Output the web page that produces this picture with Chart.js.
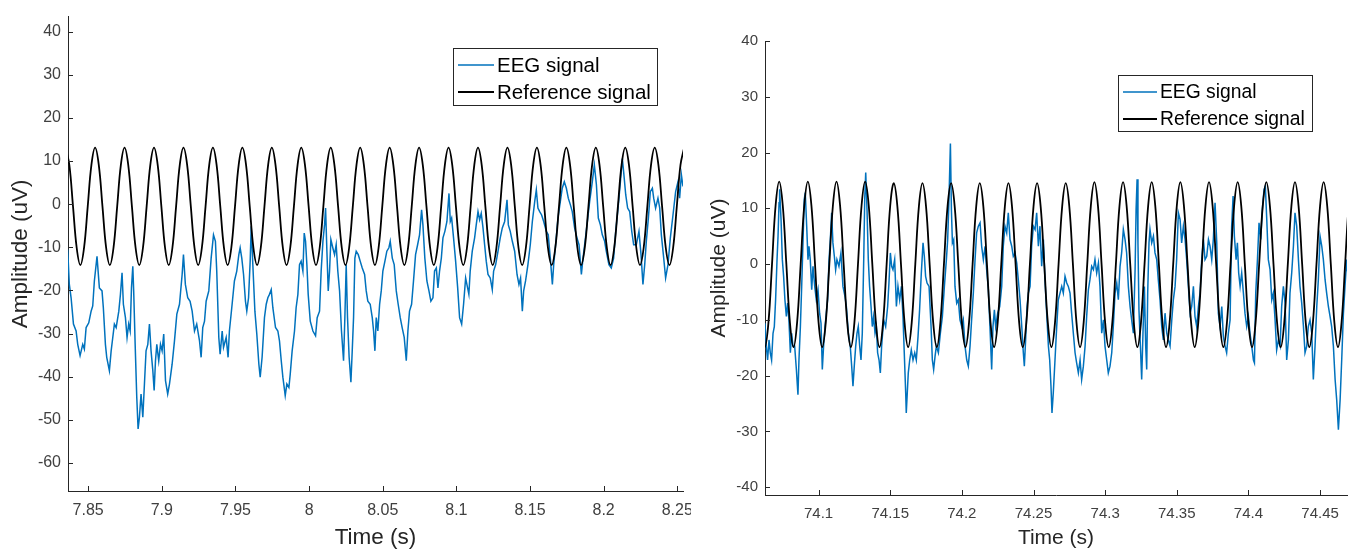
<!DOCTYPE html>
<html>
<head>
<meta charset="utf-8">
<script src="https://cdn.jsdelivr.net/npm/chart.js@4.4.1/dist/chart.umd.min.js"></script>
<style>
    html, body { margin: 0; padding: 0; background: #fff; }
    #wrap { position: relative; width: 1355px; height: 551px; overflow: hidden; background: #fff; }
    canvas { position: absolute; top: 0; background: #fff; }
    #leftChart { left: 0; }
    #rightChart { left: 691px; }
</style>
</head>
<body>
<div id="wrap">
    <canvas id="leftChart" width="720" height="551"></canvas>
    <canvas id="rightChart" width="664" height="551"></canvas>
</div>
<script>
// ---- data ----

// left panel, EEG signal (time in s, amplitude in uV)
const leftEegTime = [
    7.8361, 7.8372, 7.8384, 7.8400, 7.8418, 7.8429, 7.8445, 7.8463, 7.8474, 7.8486,
    7.8504, 7.8520, 7.8531, 7.8542, 7.8560, 7.8576, 7.8594, 7.8603, 7.8617, 7.8626,
    7.8644, 7.8656, 7.8667, 7.8678, 7.8690, 7.8708, 7.8719, 7.8730, 7.8739, 7.8753,
    7.8764, 7.8775, 7.8785, 7.8794, 7.8803, 7.8809, 7.8819, 7.8830, 7.8839, 7.8848,
    7.8859, 7.8871, 7.8882, 7.8893, 7.8905, 7.8916, 7.8927, 7.8939, 7.8948, 7.8957,
    7.8966, 7.8979, 7.8991, 7.9002, 7.9013, 7.9025, 7.9040, 7.9052, 7.9070, 7.9086,
    7.9102, 7.9120, 7.9138, 7.9147, 7.9160, 7.9176, 7.9192, 7.9206, 7.9222, 7.9237,
    7.9256, 7.9267, 7.9278, 7.9290, 7.9301, 7.9319, 7.9335, 7.9351, 7.9364, 7.9373,
    7.9387, 7.9396, 7.9410, 7.9419, 7.9437, 7.9450, 7.9459, 7.9475, 7.9493, 7.9509,
    7.9523, 7.9532, 7.9543, 7.9555, 7.9568, 7.9577, 7.9589, 7.9600, 7.9607, 7.9618,
    7.9632, 7.9645, 7.9659, 7.9668, 7.9681, 7.9697,
    7.9709, 7.9720, 7.9731, 7.9743, 7.9754, 7.9772, 7.9788, 7.9799, 7.9811, 7.9822,
    7.9838, 7.9849, 7.9863, 7.9872, 7.9885, 7.9901, 7.9912, 7.9924, 7.9935, 7.9946,
    7.9958, 7.9967, 7.9976, 7.9985, 7.9994, 8.0008, 8.0026, 8.0044, 8.0055, 8.0071,
    8.0082, 8.0094, 8.0105, 8.0112, 8.0121, 8.0130, 8.0139, 8.0148, 8.0161, 8.0173,
    8.0184, 8.0195, 8.0207, 8.0220, 8.0234, 8.0243, 8.0252, 8.0261, 8.0272, 8.0284,
    8.0293, 8.0302, 8.0311, 8.0320, 8.0334, 8.0347, 8.0361, 8.0377, 8.0388, 8.0399,
    8.0415, 8.0429, 8.0438, 8.0447, 8.0456, 8.0467, 8.0479, 8.0490, 8.0501, 8.0515,
    8.0528, 8.0542, 8.0551, 8.0565, 8.0578, 8.0592, 8.0605, 8.0619, 8.0632, 8.0646,
    8.0660, 8.0671, 8.0682, 8.0696, 8.0709, 8.0723, 8.0737, 8.0750, 8.0764, 8.0773,
    8.0786, 8.0800, 8.0814, 8.0827, 8.0841, 8.0852, 8.0864, 8.0875, 8.0886, 8.0898,
    8.0909, 8.0922, 8.0936, 8.0950, 8.0959, 8.0968, 8.0981, 8.0995, 8.1009, 8.1022,
    8.1036, 8.1049, 8.1063,
    8.1085, 8.1094, 8.1108, 8.1124, 8.1135, 8.1147, 8.1158, 8.1169, 8.1181, 8.1192,
    8.1203, 8.1215, 8.1230, 8.1244, 8.1253, 8.1267, 8.1283, 8.1298, 8.1312, 8.1328,
    8.1344, 8.1353, 8.1366, 8.1380, 8.1396, 8.1412, 8.1425, 8.1436, 8.1448, 8.1457,
    8.1470, 8.1486, 8.1502, 8.1516, 8.1532, 8.1543, 8.1554, 8.1566, 8.1579, 8.1593,
    8.1611, 8.1624, 8.1638, 8.1652, 8.1661, 8.1674, 8.1690, 8.1706, 8.1719, 8.1733,
    8.1747, 8.1760, 8.1774, 8.1787, 8.1803, 8.1819, 8.1833, 8.1849, 8.1860, 8.1874,
    8.1887, 8.1905, 8.1923, 8.1937, 8.1951, 8.1964, 8.1978, 8.1991, 8.2007, 8.2018,
    8.2036, 8.2052, 8.2068, 8.2082, 8.2098, 8.2114, 8.2127, 8.2136, 8.2150, 8.2163,
    8.2177, 8.2191, 8.2204, 8.2222, 8.2240, 8.2254, 8.2267, 8.2279, 8.2290, 8.2304,
    8.2317, 8.2331, 8.2340, 8.2353, 8.2369, 8.2381, 8.2392, 8.2408, 8.2421, 8.2437,
    8.2453, 8.2471, 8.2489, 8.2505, 8.2516, 8.2528, 8.2539
];
const leftEegValue = [
    -10.5, -18.6, -21.7, -27.8, -29.4, -32.5, -35.1, -32.5, -33.6, -28.6,
    -27.5, -24.8, -23.6, -17.8, -12.1, -19.4, -20.1, -24.0, -32.5, -35.5,
    -38.6, -34.0, -30.9, -27.8, -28.6, -24.8, -20.9, -15.9, -23.2, -26.3,
    -30.9, -27.8, -29.4, -19.4, -14.4, -20.1, -32.5, -44.8, -52.1, -49.4,
    -44.0, -49.4, -41.7, -34.0, -32.5, -27.8, -34.0, -38.6, -43.2, -36.3,
    -32.5, -36.3, -32.5, -34.0, -30.1, -40.9, -44.0, -41.7, -37.1, -31.7,
    -25.5, -23.2, -16.3, -11.7, -18.6, -21.7, -22.5, -24.8, -29.4, -27.8,
    -31.7, -35.5, -28.6, -27.1, -22.5, -20.1, -12.5, -7.1, -8.6, -15.5,
    -30.9, -34.8, -29.4, -33.2, -30.9, -35.5, -29.4, -24.0, -17.8, -15.5,
    -11.7, -10.1, -12.5, -16.3, -22.5, -24.8, -21.7, -13.2, -5.1, -14.0,
    -24.8, -30.1, -37.1, -40.1, -35.5, -26.3,
    -23.2, -21.7, -20.9, -19.8, -24.0, -28.6, -29.4, -31.7, -36.3, -40.1,
    -44.4, -41.7, -42.5, -39.4, -34.0, -29.4, -24.0, -20.9, -14.0, -13.2,
    -15.5, -6.7, -8.6, -14.0, -20.9, -27.1, -29.4, -30.5, -26.3, -24.8,
    -15.5, -8.6, -4.8, -0.9, -10.9, -20.1, -15.5, -8.2, -10.1, -11.7,
    -9.4, -15.5, -20.1, -29.4, -36.3, -26.3, -14.0, -26.3, -35.5, -41.3,
    -34.0, -26.3, -12.5, -10.9, -11.7, -13.2, -14.8, -16.3, -20.1, -22.5,
    -23.2, -26.3, -29.4, -34.0, -26.3, -29.4, -23.2, -20.1, -15.5, -13.2,
    -10.9, -10.1, -8.6, -12.5, -14.0, -20.1, -23.2, -26.3, -28.6, -30.9,
    -36.3, -29.4, -24.8, -23.2, -17.8, -11.7, -9.4, -7.1, -1.3, -4.8,
    -12.5, -17.8, -20.1, -22.5, -21.7, -15.5, -14.8, -19.4, -15.5, -12.5,
    -7.8, -6.3, -4.0, 2.5, -4.0, -3.2, -7.8, -13.2, -19.4, -26.3,
    -27.8, -23.2, -17.1,
    -20.9, -15.5, -10.9, -7.8, -4.8, -1.7, -3.6, -2.1, -5.5, -9.4,
    -13.2, -16.3, -17.1, -19.8, -15.5, -14.0, -10.9, -7.8, -5.5, -4.0,
    1.0, -4.8, -6.3, -8.6, -10.9, -16.3, -18.6, -17.1, -24.8, -20.1,
    -17.8, -14.0, -9.4, -4.0, 0.6, 3.3, -0.9, -1.7, -2.5, -4.0,
    -6.3, -7.1, -12.5, -18.6, -14.0, -9.4, -3.2, 0.6, 3.7, 5.2,
    3.7, 1.4, -0.1, -1.7, -5.5, -7.8, -9.4, -16.3, -12.5, -8.6,
    -4.8, 0.6, 5.2, 9.1, 4.5, -3.2, -4.8, -7.1, -8.6, -10.9,
    -14.0, -14.8, -12.5, -6.3, -0.9, 5.2, 10.6, 7.5, 2.2, -0.9,
    -1.7, -6.3, -9.4, -9.4, -6.3, -11.7, -18.6, -14.0, -8.6, -3.2,
    2.9, 3.7, 1.4, -0.9, 1.4, -0.9, -7.1, -12.5, -17.1, -14.0,
    -7.8, -2.5, 2.9, 5.2, 1.4, 6.8, 4.1
];

// left panel, reference signal sampled every 2.5 ms from the first sample time
const leftRefStart = 7.8347;
const leftRefValue = [
    13.1, 9.1, -0.5, -10.1, -14.1, -10.1, -0.5, 9.1,
    13.1, 9.1, -0.5, -10.1, -14.1, -10.1, -0.5, 9.1,
    13.1, 9.1, -0.5, -10.1, -14.1, -10.1, -0.5, 9.1,
    13.1, 9.1, -0.5, -10.1, -14.1, -10.1, -0.5, 9.1,
    13.1, 9.1, -0.5, -10.1, -14.1, -10.1, -0.5, 9.1,
    13.1, 9.1, -0.5, -10.1, -14.1, -10.1, -0.5, 9.1,
    13.1, 9.1, -0.5, -10.1, -14.1, -10.1, -0.5, 9.1,
    13.1, 9.1, -0.5, -10.1, -14.1, -10.1, -0.5, 9.1,
    13.1, 9.1, -0.5, -10.1, -14.1, -10.1, -0.5, 9.1,
    13.1, 9.1, -0.5, -10.1, -14.1, -10.1, -0.5, 9.1,
    13.1, 9.1, -0.5, -10.1, -14.1, -10.1, -0.5, 9.1,
    13.1, 9.1, -0.5, -10.1, -14.1, -10.1, -0.5, 9.1,
    13.1, 9.1, -0.5, -10.1, -14.1, -10.1, -0.5, 9.1,
    13.1, 9.1, -0.5, -10.1, -14.1, -10.1, -0.5, 9.1,
    13.1, 9.1, -0.5, -10.1, -14.1, -10.1, -0.5, 9.1,
    13.1, 9.1, -0.5, -10.1, -14.1, -10.1, -0.5, 9.1,
    13.1, 9.1, -0.5, -10.1, -14.1, -10.1, -0.5, 9.1,
    13.1, 9.1, -0.5, -10.1, -14.1, -10.1, -0.5, 9.1,
    13.1, 9.1, -0.5, -10.1, -14.1, -10.1, -0.5, 9.1,
    13.1, 9.1, -0.5, -10.1, -14.1, -10.1, -0.5, 9.1,
    13.1, 9.1, -0.5, -10.1, -14.1, -10.1, -0.5, 9.1,
    13.1
];

// right panel, EEG signal
const rightEegTime = [
    74.0626, 74.0635, 74.0644, 74.0654, 74.0663, 74.0672, 74.0682, 74.0691, 74.0700, 74.0710,
    74.0717, 74.0724, 74.0728, 74.0738, 74.0747, 74.0756, 74.0765, 74.0775, 74.0784, 74.0793,
    74.0803, 74.0812, 74.0821, 74.0833, 74.0845, 74.0856, 74.0863, 74.0873, 74.0882, 74.0891,
    74.0900, 74.0907, 74.0917, 74.0926, 74.0933, 74.0942, 74.0952, 74.0961, 74.0973, 74.0984,
    74.0996, 74.1007, 74.1017, 74.1026, 74.1035, 74.1045, 74.1054, 74.1063, 74.1073, 74.1082,
    74.1091, 74.1100, 74.1110, 74.1119, 74.1128, 74.1142, 74.1156, 74.1170, 74.1184, 74.1194,
    74.1208, 74.1221, 74.1231, 74.1240, 74.1249, 74.1259, 74.1268, 74.1277, 74.1287, 74.1296,
    74.1305, 74.1315, 74.1322, 74.1329, 74.1338, 74.1347, 74.1356, 74.1366, 74.1375, 74.1384,
    74.1394, 74.1403, 74.1412, 74.1422, 74.1431, 74.1440, 74.1454, 74.1468, 74.1482, 74.1491,
    74.1501, 74.1510, 74.1519, 74.1531, 74.1543, 74.1554, 74.1566, 74.1578, 74.1589, 74.1598,
    74.1608, 74.1612, 74.1619, 74.1626, 74.1636, 74.1647, 74.1659, 74.1671, 74.1682, 74.1694,
    74.1705, 74.1717, 74.1729, 74.1738, 74.1747, 74.1757, 74.1771, 74.1785, 74.1794, 74.1803,
    74.1813, 74.1822, 74.1836, 74.1850, 74.1864, 74.1878, 74.1892, 74.1901, 74.1910, 74.1920,
    74.1927, 74.1934, 74.1943,
    74.1952, 74.1964, 74.1975, 74.1987, 74.1999, 74.2010, 74.2022, 74.2034, 74.2045, 74.2057,
    74.2068, 74.2080, 74.2092, 74.2103, 74.2115, 74.2127, 74.2138, 74.2150, 74.2162, 74.2173,
    74.2185, 74.2196, 74.2208, 74.2217, 74.2227, 74.2236, 74.2250, 74.2264, 74.2278, 74.2289,
    74.2301, 74.2313, 74.2324, 74.2336, 74.2348, 74.2359, 74.2371, 74.2383, 74.2394, 74.2406,
    74.2418, 74.2429, 74.2436, 74.2445, 74.2455, 74.2464, 74.2476, 74.2487, 74.2499, 74.2511,
    74.2522, 74.2534, 74.2545, 74.2557, 74.2569, 74.2580, 74.2592, 74.2604, 74.2613, 74.2622,
    74.2629, 74.2638, 74.2650, 74.2662, 74.2673, 74.2685, 74.2697, 74.2708, 74.2720, 74.2732,
    74.2743, 74.2755, 74.2766, 74.2778, 74.2790, 74.2801, 74.2813, 74.2825, 74.2836, 74.2848,
    74.2860, 74.2871, 74.2883, 74.2894, 74.2906, 74.2918, 74.2929, 74.2941, 74.2953, 74.2964,
    74.2976, 74.2988, 74.2999, 74.3011, 74.3022, 74.3034, 74.3046, 74.3057, 74.3069, 74.3081,
    74.3092, 74.3104, 74.3115, 74.3127, 74.3139, 74.3150, 74.3162, 74.3174, 74.3185, 74.3197,
    74.3209, 74.3216, 74.3223, 74.3229, 74.3236, 74.3246, 74.3255, 74.3264, 74.3274, 74.3283,
    74.3290, 74.3297, 74.3306,
    74.3313, 74.3325, 74.3337, 74.3348, 74.3360, 74.3371, 74.3383, 74.3395, 74.3406, 74.3418,
    74.3430, 74.3441, 74.3453, 74.3465, 74.3476, 74.3488, 74.3499, 74.3511, 74.3523, 74.3534,
    74.3546, 74.3558, 74.3569, 74.3581, 74.3593, 74.3604, 74.3616, 74.3627, 74.3639, 74.3651,
    74.3662, 74.3674, 74.3686, 74.3697, 74.3709, 74.3721, 74.3732, 74.3744, 74.3755, 74.3767,
    74.3779, 74.3790, 74.3802, 74.3814, 74.3825, 74.3837, 74.3848, 74.3860, 74.3872, 74.3883,
    74.3893, 74.3902, 74.3914, 74.3923, 74.3932, 74.3942, 74.3953, 74.3965, 74.3976, 74.3988,
    74.4000, 74.4011, 74.4023, 74.4035, 74.4042, 74.4051, 74.4063, 74.4074, 74.4086, 74.4097,
    74.4109, 74.4118, 74.4128, 74.4139, 74.4151, 74.4163, 74.4174, 74.4186, 74.4197, 74.4209,
    74.4221, 74.4232, 74.4244, 74.4256, 74.4267, 74.4279, 74.4290, 74.4302, 74.4314, 74.4325,
    74.4337, 74.4349, 74.4360, 74.4372, 74.4384, 74.4395, 74.4407, 74.4418, 74.4430, 74.4442,
    74.4453, 74.4465, 74.4477, 74.4488, 74.4500, 74.4512, 74.4523, 74.4535, 74.4546, 74.4558,
    74.4570, 74.4581, 74.4593, 74.4605, 74.4616, 74.4628, 74.4640, 74.4651, 74.4663, 74.4674,
    74.4686, 74.4697
];
const rightEegValue = [
    -10.6, -14.7, -17.2, -13.6, -15.9, -17.2, -12.4, -11.2, -6.4, 0.8,
    5.0, 11.0, 13.4, 8.0, 0.8, -2.2, -6.4, -9.4, -7.0, -10.0,
    -15.9, -12.4, -14.7, -14.7, -18.9, -23.4, -17.2, -11.2, -4.0, 3.8,
    11.6, 12.8, 6.8, 0.8, 3.2, 0.8, -4.6, -0.4, -4.0, -6.4,
    -4.6, -8.8, -10.6, -18.9, -14.7, -11.2, -8.8, -6.4, 0.8, 4.4,
    9.2, 3.8, 1.4, -1.0, 0.8, -0.4, 2.0, -4.0, -5.8, -7.6,
    -12.4, -14.7, -18.3, -21.9, -18.3, -14.7, -12.4, -11.2, -14.7, -17.2,
    -12.4, 0.8, 11.6, 16.4, 9.8, 0.8, -4.0, -7.6, -11.2, -9.4,
    -12.4, -11.2, -15.9, -17.2, -19.5, -14.7, -10.0, -11.2, -7.6, -3.4,
    2.0, -0.4, -1.0, 0.8, -7.6, -4.0, -6.4, -4.0, -9.4, -15.9,
    -23.1, -26.7, -23.1, -19.5, -17.2, -15.4, -17.2, -15.9, -17.2, -13.0,
    -8.2, -1.6, 3.8, 1.4, -2.2, -3.4, -4.0, -11.2, -17.2, -18.9,
    -16.5, -14.7, -15.9, -12.4, -9.4, -4.0, 0.8, 4.4, 11.6, 21.6,
    9.8, 3.8, 4.4,
    -4.0, -7.0, -6.4, -10.0, -11.2, -10.0, -14.7, -17.2, -18.3, -14.7,
    -10.0, -5.2, 0.8, 5.6, 6.8, 7.4, 3.2, 0.8, 3.2, -1.0,
    -4.6, -11.2, -18.9, -11.2, -8.2, -11.2, -8.8, -7.6, -4.0, 3.2,
    6.8, 5.6, 9.2, 4.4, 3.2, 1.4, 2.0, 0.2, -2.8, -6.4,
    -11.2, -15.9, -18.3, -13.6, -7.6, -5.2, -4.0, 3.2, 6.8, 6.2,
    9.2, 3.2, 6.8, -0.4, 4.4, -2.8, -8.8, -14.7, -17.2, -21.9,
    -26.7, -23.1, -17.2, -11.2, -6.4, -5.2, -4.0, -5.2, -2.2, -3.4,
    -4.0, -5.2, -8.8, -12.4, -15.9, -17.7, -19.5, -17.2, -20.7, -18.3,
    -14.7, -9.4, -4.6, -2.8, -0.4, -1.0, 0.8, -1.6, 0.2, -4.0,
    -12.4, -10.0, -14.7, -17.2, -19.5, -18.3, -15.9, -11.2, -5.2, -3.4,
    -6.4, -0.4, 2.0, 6.2, 4.4, 2.0, -4.0, -7.6, -10.0, -12.4,
    -1.0, 9.8, 15.2, 3.8, -8.2, -14.7, -20.7, -12.4, -4.0, -14.7,
    -18.9, -5.2, 3.8,
    6.2, 3.8, 5.0, 2.0, 0.8, -2.8, -6.4, -11.2, -13.6, -8.8,
    -12.4, -13.6, -14.7, -10.0, -6.4, -4.0, 0.8, 9.2, 8.0, 3.8,
    6.8, 4.4, 0.8, -4.0, -8.8, -7.6, -4.0, -9.4, -11.2, -7.6,
    -5.2, 0.8, 4.4, 0.8, 1.4, 4.4, 3.2, 0.8, 4.4, 11.0,
    3.8, -8.8, -11.2, -7.6, -13.0, -14.7, -15.9, -12.4, -10.0, 6.8,
    12.2, 5.0, 0.8, 3.8, -1.6, -4.0, -1.6, -5.2, -8.8, -11.2,
    -9.4, -12.4, -14.7, -17.2, -17.7, -5.2, 0.8, 7.4, 4.4, 9.8,
    13.4, 14.0, 8.0, 0.8, -1.0, -6.4, -5.2, -10.0, -15.4, -13.6,
    -14.7, -7.6, -4.0, -7.0, -17.2, -13.6, -5.2, -1.6, 3.2, 9.2,
    6.8, 0.8, -4.0, -7.0, -11.2, -15.9, -14.7, -11.2, -10.0, -12.4,
    -20.7, -14.7, -7.6, -2.8, 5.0, 3.2, 0.8, -2.8, -5.2, -7.6,
    -9.4, -11.2, -14.7, -20.7, -24.3, -29.7, -24.3, -17.2, -8.8, -4.0,
    0.8, -2.8
];

// right panel, reference signal sampled every 2.5 ms
const rightRefStart = 74.0525;
const rightRefValue = [
    14.8, 10.5, 0, -10.5, -14.9, -10.5, 0, 10.5,
    14.8, 10.5, 0, -10.5, -14.9, -10.5, 0, 10.5,
    14.8, 10.5, 0, -10.5, -14.9, -10.5, 0, 10.5,
    14.8, 10.5, 0, -10.5, -14.9, -10.5, 0, 10.5,
    14.8, 10.5, 0, -10.5, -14.9, -10.5, 0, 10.5,
    14.5, 10.3, 0, -10.5, -14.9, -10.5, 0, 10.3,
    14.5, 10.3, 0, -10.5, -14.9, -10.5, 0, 10.3,
    14.5, 10.3, 0, -10.5, -14.9, -10.5, 0, 10.3,
    14.5, 10.3, 0, -10.5, -14.9, -10.5, 0, 10.3,
    14.5, 10.3, 0, -10.5, -14.9, -10.5, 0, 10.3,
    14.5, 10.3, 0, -10.5, -14.9, -10.5, 0, 10.3,
    14.5, 10.3, 0, -10.5, -14.9, -10.5, 0, 10.4,
    14.7, 10.4, 0, -10.5, -14.9, -10.5, 0, 10.4,
    14.7, 10.4, 0, -10.5, -14.9, -10.5, 0, 10.4,
    14.7, 10.4, 0, -10.5, -14.9, -10.5, 0, 10.4,
    14.7, 10.4, 0, -10.5, -14.9, -10.5, 0, 10.4,
    14.7, 10.4, 0, -10.5, -14.9, -10.5, 0, 10.4,
    14.7, 10.4, 0, -10.5, -14.9, -10.5, 0, 10.4,
    14.7, 10.4, 0, -10.5, -14.9, -10.5, 0, 10.4,
    14.7, 10.4, 0, -10.5, -14.9, -10.5, 0, 10.4,
    14.7, 10.4, 0, -10.5, -14.9, -10.5, 0, 10.4,
    14.7
];
const refStep = 0.0025;

// axis ticks
const leftXTicks = [7.85, 7.9, 7.95, 8, 8.05, 8.1, 8.15, 8.2, 8.25];
const leftYTicks = [-60, -50, -40, -30, -20, -10, 0, 10, 20, 30, 40];
const rightXTicks = [74.1, 74.15, 74.2, 74.25, 74.3, 74.35, 74.4, 74.45];
const rightYTicks = [-40, -30, -20, -10, 0, 10, 20, 30, 40];

const seriesNames = ['EEG signal', 'Reference signal'];

// ---- styling ----
const FONT = '"Liberation Sans", Arial, Helvetica, sans-serif';
const EEG_BLUE = '#0072BD';
const REF_BLACK = '#000000';
const AXIS_COLOR = '#262626';
const TICK_COLOR = '#404040';

// MATLAB-like inward ticks + legend box drawn inside the axes
const matlabAxes = {
    id: 'matlabAxes',
    afterDatasetsDraw(chart, args, opts) {
        const { ctx, chartArea: a, scales: { x, y } } = chart;
        ctx.save();
        ctx.strokeStyle = AXIS_COLOR;
        ctx.lineWidth = 1;
        ctx.beginPath();
        x.ticks.forEach(t => {
            const px = Math.round(x.getPixelForValue(t.value)) + 0.5;
            ctx.moveTo(px, a.bottom);
            ctx.lineTo(px, a.bottom - 5);
        });
        y.ticks.forEach(t => {
            const py = Math.round(y.getPixelForValue(t.value)) + 0.5;
            ctx.moveTo(a.left, py);
            ctx.lineTo(a.left + 5, py);
        });
        ctx.stroke();

        // legend
        const L = opts.legend;
        ctx.fillStyle = '#fff';
        ctx.fillRect(L.x, L.y, L.w, L.h);
        ctx.strokeStyle = AXIS_COLOR;
        ctx.strokeRect(L.x + 0.5, L.y + 0.5, L.w, L.h);
        ctx.font = `${L.size}px ${FONT}`;
        ctx.textBaseline = 'middle';
        ctx.textAlign = 'left';
        const colors = [EEG_BLUE, REF_BLACK];
        seriesNames.forEach((name, i) => {
            const ry = L.rows[i];
            ctx.strokeStyle = colors[i];
            ctx.lineWidth = i === 0 ? 1.6 : 1.9;
            ctx.beginPath();
            ctx.moveTo(L.lineX1, ry);
            ctx.lineTo(L.lineX2, ry);
            ctx.stroke();
            ctx.fillStyle = '#000';
            ctx.fillText(name, L.textX, ry + 1);
        });
        ctx.restore();
    }
};

const fmt = v => String(Math.round(v * 100) / 100);

function makePanel(canvasId, p) {
    const eeg = p.eegTime.map((t, i) => ({ x: t, y: p.eegValue[i] }));
    const ref = p.refValue.map((v, i) => ({ x: p.refStart + i * refStep, y: v }));

    return new Chart(document.getElementById(canvasId), {
        type: 'line',
        data: {
            datasets: [
                { label: seriesNames[0], data: eeg, borderColor: EEG_BLUE, borderWidth: 1.5,
                  pointRadius: 0, tension: 0, order: 1 },
                { label: seriesNames[1], data: ref, borderColor: REF_BLACK, borderWidth: 1.8,
                  pointRadius: 0, tension: 0.4, order: 0 }
            ]
        },
        plugins: [matlabAxes],
        options: {
            responsive: false,
            animation: false,
            devicePixelRatio: 1,
            events: [],
            layout: { padding: p.padding },
            plugins: {
                legend: { display: false },
                tooltip: { enabled: false },
                matlabAxes: { legend: p.legend }
            },
            scales: {
                x: {
                    type: 'linear',
                    min: p.xMin, max: p.xMax,
                    afterBuildTicks: s => { s.ticks = p.xTicks.map(v => ({ value: v })); },
                    afterFit: s => { s.height = p.xAxisHeight; },
                    grid: { display: false, drawTicks: false },
                    border: { display: true, color: AXIS_COLOR, width: 1 },
                    ticks: {
                        autoSkip: false, maxRotation: 0, padding: 10,
                        color: TICK_COLOR, font: { family: FONT, size: p.tickSize },
                        callback: v => fmt(v)
                    },
                    title: {
                        display: true, text: 'Time (s)', color: AXIS_COLOR,
                        font: { family: FONT, size: p.labelSize }, padding: { top: 0, bottom: 0 }
                    }
                },
                y: {
                    type: 'linear',
                    min: p.yMin, max: p.yMax,
                    afterBuildTicks: s => { s.ticks = p.yTicks.map(v => ({ value: v })); },
                    afterFit: s => { s.width = p.yAxisWidth; },
                    grid: { display: false, drawTicks: false },
                    border: { display: true, color: AXIS_COLOR, width: 1 },
                    ticks: {
                        padding: 7, color: TICK_COLOR, font: { family: FONT, size: p.tickSize },
                        callback: v => fmt(v)
                    },
                    title: {
                        display: true, text: 'Amplitude (uV)', color: AXIS_COLOR,
                        font: { family: FONT, size: p.labelSize }, padding: { top: p.yTitlePad, bottom: 0 }
                    }
                }
            }
        }
    });
}

makePanel('leftChart', {
    eegTime: leftEegTime, eegValue: leftEegValue,
    refStart: leftRefStart, refValue: leftRefValue,
    xMin: 7.8363, xMax: 8.2539, yMin: -66.5, yMax: 43.5,
    xTicks: leftXTicks, yTicks: leftYTicks,
    padding: { top: 14, right: 37, left: 0, bottom: 0 },
    xAxisHeight: 60, yAxisWidth: 68, yTitlePad: 7,
    tickSize: 16, labelSize: 22.5,
    legend: { x: 453, y: 48, w: 204, h: 57, rows: [65, 92], lineX1: 458, lineX2: 494, textX: 497, size: 20.5 }
});

makePanel('rightChart', {
    eegTime: rightEegTime, eegValue: rightEegValue,
    refStart: rightRefStart, refValue: rightRefValue,
    xMin: 74.0626, xMax: 74.4688, yMin: -41.4, yMax: 40,
    xTicks: rightXTicks, yTicks: rightYTicks,
    padding: { top: 41, right: 8, left: 0, bottom: 0 },
    xAxisHeight: 56, yAxisWidth: 74, yTitlePad: 16,
    tickSize: 15, labelSize: 21,
    legend: { x: 427, y: 75, w: 194, h: 56, rows: [92, 119], lineX1: 432, lineX2: 466, textX: 469, size: 19.3 }
});
</script>
</body>
</html>
